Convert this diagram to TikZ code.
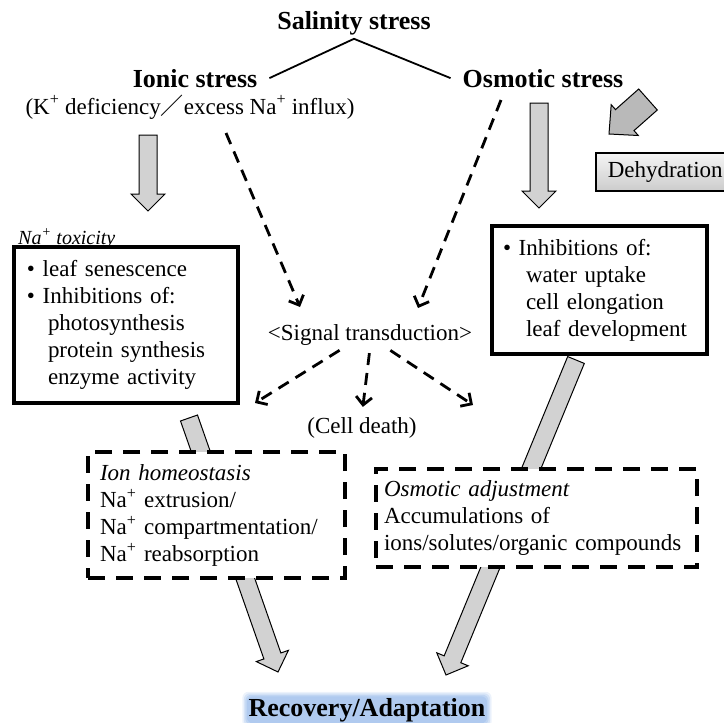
\documentclass[tikz,border=0pt]{standalone}
\usepackage{fontspec}
\setmainfont{Liberation Serif}
\newfontfamily\cjkfont{Noto Sans CJK JP}
\usetikzlibrary{arrows.meta,calc,backgrounds}

\definecolor{glowblue}{RGB}{160,192,236}

% hollow gray block arrow from #1 to #2
\newcommand\fatarrow[2]{%
  \draw[fat] ($(#1)!9pt!90:(#2)$)
    -- ($(#2)!17pt!(#1)!9pt!-90:(#1)$)
    -- ($(#2)!17pt!(#1)!17pt!-90:(#1)$)
    -- (#2)
    -- ($(#2)!17pt!(#1)!17pt!90:(#1)$)
    -- ($(#2)!17pt!(#1)!9pt!90:(#1)$)
    -- ($(#1)!9pt!-90:(#2)$) -- cycle;}

\begin{document}
\begin{tikzpicture}[x=1pt, y=-1pt,
  txt/.style={font=\fontsize{23pt}{27pt}\selectfont, inner sep=3pt},
  head/.style={font=\bfseries\fontsize{26pt}{30pt}\selectfont, inner sep=4pt},
  solidbox/.style={draw, line width=4pt, fill=white, align=left,
                   font=\fontsize{23pt}{27pt}\selectfont, inner ysep=0pt},
  dashbox/.style={solidbox, dash pattern=on 17pt off 11pt},
  dasharr/.style={line width=2.8pt, dash pattern=on 12pt off 8pt,
                  -{Straight Barb[length=8pt, width=16pt]}},
  fat/.style={draw, fill=gray!35, line width=1pt},
  link/.style={line width=1.8pt}
]
\useasboundingbox (0,0) rectangle (724,723);

% headings
\node[head, anchor=base] (sal) at (354,29) {Salinity stress};
\node[head, anchor=base] (ion) at (195,87) {Ionic stress};
\node[head, anchor=base] (osm) at (543,87) {Osmotic stress};
\node[txt, anchor=base] (kna) at (190,114)
  {(K\textsuperscript{+} deficiency{\cjkfont ／}excess Na\textsuperscript{+} influx)};
\node[txt, anchor=base] (sig) at (370,340) {<Signal transduction>};
\node[txt, anchor=base] (death) at (362,433) {(Cell death)};
\node[head, anchor=base, inner sep=1pt] (rec) at (367,716) {Recovery/Adaptation};

% dehydration
\node[txt, draw, line width=1.5pt, top color=gray!8, bottom color=gray!40,
      minimum height=38pt, inner xsep=12pt, anchor=west] (dehy) at (595,172) {Dehydration};
\draw[fat, fill=gray!55] (609,134) -- (638.3,135.5) -- (634,130.6) -- (657.3,110)
  -- (638.7,89) -- (615.5,109.6) -- (611.2,104.7) -- cycle;

% boxes
\node[anchor=base west, font=\itshape\fontsize{20pt}{24pt}\selectfont, inner sep=0pt]
  (ntox) at (18,244) {\underline{Na\textsuperscript{+} toxicity}};
\node[solidbox, text width=198pt, inner xsep=13pt, minimum height=156pt] (ltox) at (126,325)
  {\textbullet\ leaf senescence\\
   \textbullet\ Inhibitions of:\\
   \hspace*{21pt}photosynthesis\\
   \hspace*{21pt}protein synthesis\\
   \hspace*{21pt}enzyme activity};
\node[solidbox, text width=193pt, inner xsep=11pt, minimum height=128pt] (rinh) at (599.5,290)
  {\textbullet\ Inhibitions of:\\
   \hspace*{23pt}water uptake\\
   \hspace*{23pt}cell elongation\\
   \hspace*{23pt}leaf development};
\node[dashbox, text width=233pt, inner xsep=12pt, minimum height=126pt] (ionb) at (216.5,515)
  {{\itshape Ion homeostasis}\\
   Na\textsuperscript{+} extrusion/\\
   Na\textsuperscript{+} compartmentation/\\
   Na\textsuperscript{+} reabsorption};
\node[dashbox, text width=305pt, inner xsep=8pt, minimum height=98pt] (oadj) at (536.5,518)
  {{\itshape Osmotic adjustment}\\
   Accumulations of\\
   ions/solutes/organic compounds};

% free ends
\coordinate (ia) at (148,135);  \coordinate (ib) at (148,211);
\coordinate (oa) at (539,103);  \coordinate (ob) at (539,208);
\coordinate (la) at (189,418);  \coordinate (lb) at (278,672);
\coordinate (ra) at (576,360);  \coordinate (rb) at (446,675);
\coordinate (dl) at (226,133);  \coordinate (dlt) at (300,307);
\coordinate (dr) at (501,100);  \coordinate (drt) at (418,308);
\coordinate (sl) at (255,403);  \coordinate (sr) at (473,405);

\begin{pgfonlayer}{background}
\fatarrow{ia}{ib}
\fatarrow{oa}{ob}
\fatarrow{la}{lb}
\fatarrow{ra}{rb}
% soft glow behind the last heading
\foreach \g/\o in {5/0.2, 3.5/0.3, 2/0.4, 0.5/0.5}
  \fill[glowblue, opacity=\o, rounded corners=6pt]
    ([shift={(-\g pt,-\g pt)}]rec.south west) rectangle ([shift={(\g pt,\g pt)}]rec.north east);
\end{pgfonlayer}

\draw[link] ([xshift=8pt]ion.east) -- (sal.south) -- ([xshift=-8pt]osm.west);

\draw[dasharr] (dl) -- (dlt);
\draw[dasharr] (dr) -- (drt);
\draw[dasharr, shorten <=4pt] ([xshift=-27pt]sig.south) -- (sl);
\draw[dasharr, shorten <=5pt, shorten >=7pt] (sig.south) -- (death.north);
\draw[dasharr, shorten <=4pt] ([xshift=17pt]sig.south) -- (sr);
\end{tikzpicture}
\end{document}
